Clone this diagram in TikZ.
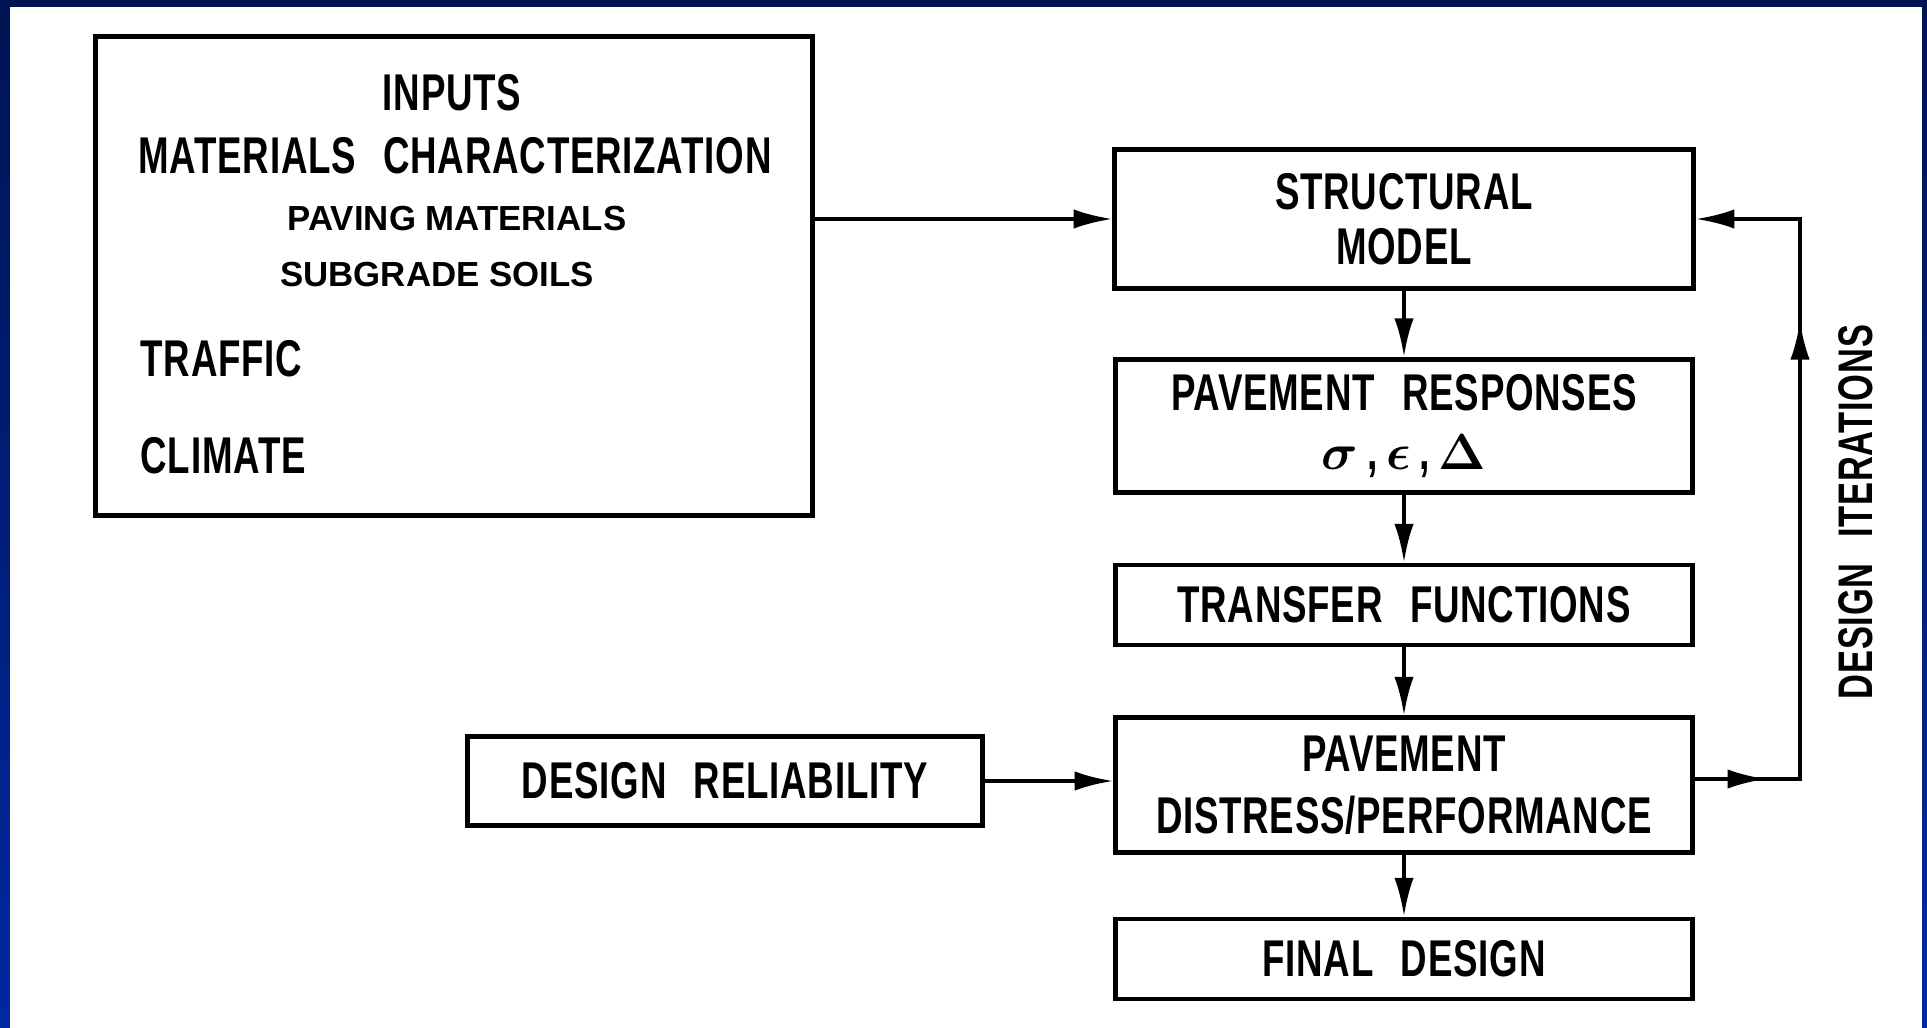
\documentclass[tikz,border=0pt]{standalone}
\usepackage{fontspec}
\setmainfont{Liberation Sans}[FakeStretch=0.71, WordSpace=2.5, LetterSpace=1.5]
\newfontfamily\plainsans{Liberation Sans}
\usetikzlibrary{arrows.meta,decorations.markings}
\definecolor{navytop}{RGB}{0,20,82}
\definecolor{navybot}{RGB}{0,40,160}
\tikzset{
  blk/.style={draw, line width=1.4pt, inner sep=0pt, align=center},
  big/.style={font=\bfseries\fontsize{14.7}{15.6}\selectfont, inner sep=0pt},
  little/.style={font=\plainsans\bfseries\fontsize{9.9}{11}\selectfont, inner sep=0pt},
  lnk/.style={line width=1.1pt, -{Latex[length=11pt,width=5.5pt]}},
}
\begin{document}
\begin{tikzpicture}[x=0.01cm,y=-0.01cm]
\useasboundingbox (0,0) rectangle (1927,1028);
\shade[top color=navytop, bottom color=navybot] (0,0) rectangle (1927,1028);
\fill[white] (10,7) rectangle (1922,1028);

\node[blk, minimum width=7.16cm, minimum height=4.79cm] (inp) at (454,276) {};
\node[big] (inpt) at (452,93) {INPUTS};
\node[big] (mc) at (455,156) {MATERIALS CHARACTERIZATION};
\node[little] (pm) at (457,219) {PAVING MATERIALS};
\node[little] (ss) at (437,275) {SUBGRADE SOILS};
\node[big, anchor=west] (tr) at (140,359) {TRAFFIC};
\node[big, anchor=west] (cl) at (140,456) {CLIMATE};

\node[blk, big, minimum width=5.78cm, minimum height=1.39cm] (sm) at (1404,219) {STRUCTURAL\\MODEL};
\node[blk, big, minimum width=5.76cm, minimum height=1.33cm] (pr) at (1404,426)
  {PAVEMENT RESPONSES\\[1pt]{\fontsize{15}{15}\selectfont\boldmath$\sigma$\,,\,$\epsilon$\,,\,$\Delta$}};
\node[blk, big, minimum width=5.76cm, minimum height=0.8cm] (tf) at (1404,605) {TRANSFER FUNCTIONS};
\node[blk, big, minimum width=5.76cm, minimum height=1.34cm] (pd) at (1404,785) {PAVEMENT\\[2pt]DISTRESS/PERFORMANCE};
\node[blk, big, minimum width=5.76cm, minimum height=0.8cm] (fd) at (1404,959) {FINAL DESIGN};
\node[blk, big, minimum width=5.15cm, minimum height=0.89cm] (dr) at (725,781) {DESIGN RELIABILITY};
\node[big, rotate=90, font=\bfseries\fontsize{13.8}{15}\selectfont] (di) at (1856,512) {DESIGN ITERATIONS};

\coordinate (r1) at (1800,779);
\coordinate (r2) at (1800,219);

\draw[lnk] (inp.east |- sm.west) -- (sm.west);
\draw[lnk] (sm) -- (pr);
\draw[lnk] (pr) -- (tf);
\draw[lnk] (tf) -- (pd);
\draw[lnk] (pd) -- (fd);
\draw[lnk] (dr.east) -- (dr.east -| pd.west);
\draw[lnk, postaction={decorate}, decoration={markings,
    mark=at position 0.093 with {\arrow{Latex[length=11pt,width=5.5pt]}},
    mark=at position 0.732 with {\arrow{Latex[length=11pt,width=5.5pt]}}}]
  (pd.east |- r1) -- (r1) -- (r2) -- (sm.east);
\end{tikzpicture}
\end{document}
